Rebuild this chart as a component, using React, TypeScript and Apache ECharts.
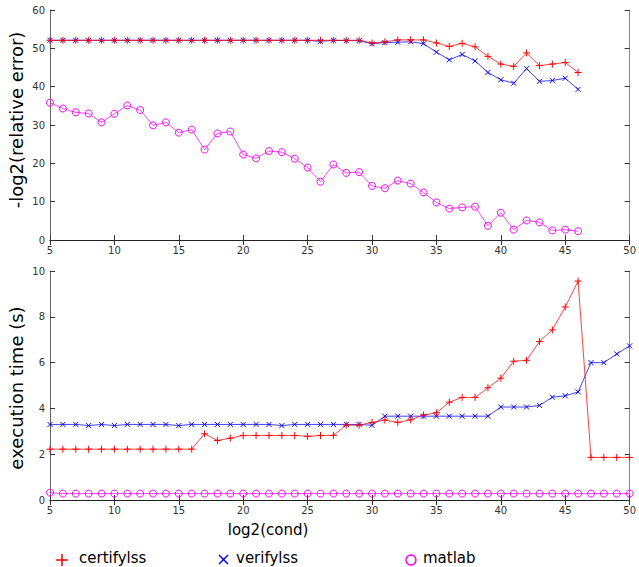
import React, { useEffect, useRef } from "react";
import * as echarts from "echarts";

const xErr = [5, 6, 7, 8, 9, 10, 11, 12, 13, 14, 15, 16, 17, 18, 19, 20, 21, 22, 23, 24, 25, 26, 27, 28, 29, 30, 31, 32, 33, 34, 35, 36, 37, 38, 39, 40, 41, 42, 43, 44, 45, 46];
const certErr = [52.1, 52.1, 52.1, 52.1, 52.1, 52.1, 52.1, 52.1, 52.1, 52.1, 52.1, 52.1, 52.1, 52.1, 52.1, 52.1, 52.1, 52.1, 52.1, 52.1, 52.1, 52.1, 52.1, 52.1, 52.1, 51.4, 51.7, 52.2, 52.2, 52.2, 51.4, 50.5, 51.3, 50.4, 47.9, 45.9, 45.3, 48.8, 45.5, 45.9, 46.3, 43.7];
const verErr = [52.1, 52.1, 52.1, 52.1, 52.1, 52.1, 52.1, 52.1, 52.1, 52.1, 52.1, 52.1, 52.1, 52.1, 52.1, 52.1, 52.1, 52.1, 52.1, 52.1, 52.1, 51.8, 52.1, 52.0, 52.0, 51.2, 51.5, 51.6, 51.7, 51.2, 49.0, 47.0, 48.4, 46.7, 43.7, 41.8, 40.9, 44.7, 41.4, 41.6, 42.2, 39.3];
const matErr = [35.8, 34.3, 33.3, 33.0, 30.7, 32.9, 35.1, 33.9, 29.9, 30.7, 28.0, 28.8, 23.6, 27.8, 28.3, 22.3, 21.3, 23.2, 22.9, 21.2, 18.9, 15.2, 19.7, 17.5, 17.7, 14.1, 13.5, 15.5, 14.7, 12.4, 9.8, 8.2, 8.5, 8.7, 3.7, 7.1, 2.7, 5.1, 4.6, 2.5, 2.7, 2.3];

const xTime = [5, 6, 7, 8, 9, 10, 11, 12, 13, 14, 15, 16, 17, 18, 19, 20, 21, 22, 23, 24, 25, 26, 27, 28, 29, 30, 31, 32, 33, 34, 35, 36, 37, 38, 39, 40, 41, 42, 43, 44, 45, 46, 47, 48, 49, 50];
const certTime = [2.22, 2.22, 2.22, 2.22, 2.22, 2.22, 2.22, 2.22, 2.22, 2.22, 2.22, 2.22, 2.89, 2.6, 2.7, 2.82, 2.82, 2.82, 2.82, 2.82, 2.78, 2.82, 2.82, 3.27, 3.27, 3.39, 3.49, 3.39, 3.5, 3.71, 3.81, 4.27, 4.48, 4.48, 4.9, 5.32, 6.06, 6.1, 6.92, 7.43, 8.43, 9.56, 1.86, 1.86, 1.86, 1.86];
const verTime = [3.3, 3.3, 3.3, 3.25, 3.3, 3.25, 3.3, 3.3, 3.3, 3.3, 3.25, 3.3, 3.3, 3.3, 3.3, 3.3, 3.3, 3.3, 3.25, 3.3, 3.3, 3.3, 3.3, 3.3, 3.3, 3.26, 3.66, 3.66, 3.66, 3.66, 3.66, 3.66, 3.66, 3.66, 3.66, 4.06, 4.06, 4.06, 4.13, 4.49, 4.55, 4.72, 6.0, 6.0, 6.38, 6.73];
const matTime = [0.32, 0.28, 0.28, 0.28, 0.28, 0.28, 0.28, 0.28, 0.28, 0.28, 0.28, 0.28, 0.28, 0.28, 0.28, 0.28, 0.28, 0.28, 0.28, 0.28, 0.28, 0.28, 0.28, 0.28, 0.28, 0.28, 0.28, 0.28, 0.28, 0.28, 0.28, 0.28, 0.28, 0.28, 0.28, 0.28, 0.28, 0.28, 0.28, 0.28, 0.28, 0.28, 0.28, 0.28, 0.28, 0.28];

const seriesNames = ["certifylss", "verifylss", "matlab"];
const yNameTop = "-log2(relative error)";
const yNameBottom = "execution time (s)";
const xName = "log2(cond)";

const FONT = "DejaVu Sans";
const RED = "#ff0000";
const BLUE = "#0000ff";
const MAG = "#ff00ff";
const PLUS = "path://M5,0L5,10M0,5L10,5";
const CROSS = "path://M0,0L10,10M10,0L0,10";

function pairs(xs: number[], ys: number[]) {
  return xs.map((x, i) => [x, ys[i]]);
}

export default function App() {
  const ref = useRef<HTMLDivElement>(null);
  useEffect(() => {
    document.body.style.margin = "0";
    if (!ref.current) return;
    const chart = echarts.init(ref.current, undefined, { renderer: "svg" });

    const mkX = (gi: number, min: number, max: number) => [
      {
        type: "value", gridIndex: gi, min, max, interval: 5, position: "bottom",
        axisLine: { show: true, lineStyle: { color: "#555", width: 1 } },
        axisTick: { show: true, inside: true, length: 5, lineStyle: { color: "#333" } },
        axisLabel: { show: true, color: "#333", fontSize: 10, fontFamily: FONT, margin: 5 },
        splitLine: { show: false },
      },
      {
        type: "value", gridIndex: gi, min, max, interval: 5, position: "top",
        axisLine: { show: true, lineStyle: { color: "#222", width: 1 } },
        axisTick: { show: true, inside: true, length: 5, lineStyle: { color: "#333" } },
        axisLabel: { show: false },
        splitLine: { show: false },
      },
    ];
    const mkY = (gi: number, min: number, max: number, interval: number) => [
      {
        type: "value", gridIndex: gi, min, max, interval, position: "left",
        axisLine: { show: true, lineStyle: { color: "#666", width: 1 } },
        axisTick: { show: true, inside: true, length: 5, lineStyle: { color: "#333" } },
        axisLabel: { show: true, color: "#333", fontSize: 10, fontFamily: FONT, margin: 5 },
        splitLine: { show: false },
      },
      {
        type: "value", gridIndex: gi, min, max, interval, position: "right",
        axisLine: { show: true, lineStyle: { color: "#888", width: 1 } },
        axisTick: { show: true, inside: true, length: 5, lineStyle: { color: "#333" } },
        axisLabel: { show: false },
        splitLine: { show: false },
      },
    ];

    const mkSeries = (name: string, data: number[][], color: string, symbol: string, size: number, xi: number, yi: number) => ({
      name,
      type: "line",
      xAxisIndex: xi,
      yAxisIndex: yi,
      data,
      symbol,
      symbolSize: size,
      showSymbol: true,
      lineStyle: { color, width: 1, opacity: 0.75 },
      itemStyle: { color: "rgba(0,0,0,0)", borderColor: color, borderWidth: 1 },
      emphasis: { disabled: true },
      z: 3,
    });

    const legendY = 560;
    const legendText = (x: number, t: string) => ({
      type: "text", left: x, top: legendY - 10,
      style: { text: t, fontSize: 15, fontFamily: FONT, fill: "#000" },
    });

    chart.setOption({
      animation: false,
      backgroundColor: "#fff",
      grid: [
        { left: 50, top: 10, width: 583, height: 230 },
        { left: 50, top: 271, width: 583, height: 229 },
      ],
      xAxis: [...mkX(0, 5, 50), ...mkX(1, 5, 50)],
      yAxis: [...mkY(0, 0, 60, 10), ...mkY(1, 0, 10, 2)],
      series: [
        mkSeries(seriesNames[2], pairs(xErr, matErr), MAG, "circle", 7, 0, 0),
        mkSeries(seriesNames[1], pairs(xErr, verErr), BLUE, CROSS, 5, 0, 0),
        mkSeries(seriesNames[0], pairs(xErr, certErr), RED, PLUS, 7, 0, 0),
        mkSeries(seriesNames[2], pairs(xTime, matTime), MAG, "circle", 7, 2, 2),
        mkSeries(seriesNames[1], pairs(xTime, verTime), BLUE, CROSS, 5, 2, 2),
        mkSeries(seriesNames[0], pairs(xTime, certTime), RED, PLUS, 7, 2, 2),
      ],
      graphic: [
        {
          type: "text", x: 16, y: 120, rotation: Math.PI / 2,
          style: { text: yNameTop, fontSize: 18, fontFamily: FONT, fill: "#000", align: "center", verticalAlign: "middle" },
        },
        {
          type: "text", x: 16, y: 388, rotation: Math.PI / 2,
          style: { text: yNameBottom, fontSize: 18, fontFamily: FONT, fill: "#000", align: "center", verticalAlign: "middle" },
        },
        {
          type: "text", x: 268, y: 530,
          style: { text: xName, fontSize: 15, fontFamily: FONT, fill: "#000", align: "center", verticalAlign: "middle" },
        },
        { type: "line", shape: { x1: 56, y1: legendY, x2: 68, y2: legendY }, style: { stroke: RED, lineWidth: 1.5 } },
        { type: "line", shape: { x1: 62, y1: legendY - 6, x2: 62, y2: legendY + 6 }, style: { stroke: RED, lineWidth: 1.5 } },
        legendText(79, seriesNames[0]),
        { type: "line", shape: { x1: 219, y1: legendY - 5, x2: 228, y2: legendY + 4 }, style: { stroke: BLUE, lineWidth: 1.5 } },
        { type: "line", shape: { x1: 228, y1: legendY - 5, x2: 219, y2: legendY + 4 }, style: { stroke: BLUE, lineWidth: 1.5 } },
        legendText(236, seriesNames[1]),
        { type: "circle", shape: { cx: 411, cy: legendY, r: 5 }, style: { stroke: MAG, fill: "none", lineWidth: 1.5 } },
        legendText(423, seriesNames[2]),
      ],
    });
    return () => chart.dispose();
  }, []);
  return <div ref={ref} style={{ width: 639, height: 567 }} />;
}
